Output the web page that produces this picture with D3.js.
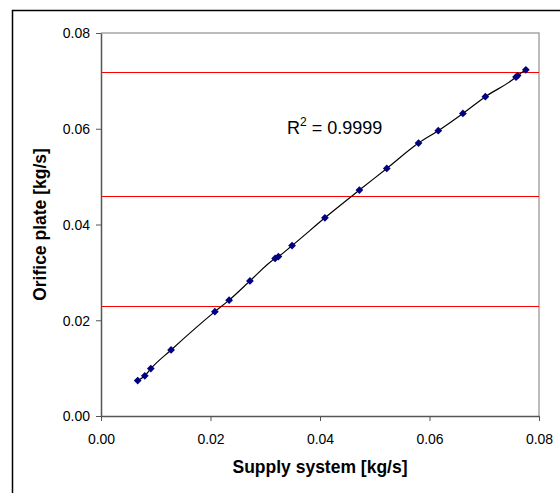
<!DOCTYPE html>
<html><head><meta charset="utf-8">
<script src="https://cdn.jsdelivr.net/npm/d3@7"></script>
<style>body{margin:0;background:#fff}svg{display:block}text{font-family:"Liberation Sans",Arial,sans-serif}</style>
</head><body>
<svg id="c" width="560" height="493"></svg>
<script>
const supply = [0.0067,0.0080,0.0091,0.0128,0.0208,0.0234,0.0272,0.0318,0.0324,0.0349,0.0409,0.0472,0.0522,0.0580,0.0616,0.0661,0.0702,0.0758,0.0761,0.0776];
const orifice = [0.0074,0.0084,0.0099,0.0138,0.0218,0.0242,0.0282,0.0329,0.0333,0.0356,0.0414,0.0472,0.0517,0.0570,0.0596,0.0632,0.0667,0.0708,0.0711,0.0723];
const refLines = [0.0719,0.0460,0.0230];
const xTicks = [0,0.02,0.04,0.06,0.08];
const yTicks = [0,0.02,0.04,0.06,0.08];
const xTitle = "Supply system [kg/s]";
const yTitle = "Orifice plate [kg/s]";

const svg = d3.select("#c");
const L=101, R=539, T=33, B=416;
const x = d3.scaleLinear().domain([0,0.08]).range([L,R]);
const y = d3.scaleLinear().domain([0,0.08]).range([B,T]);

// outer chart border
svg.append("rect").attr("x",12.5).attr("y",10.5).attr("width",600).attr("height",600)
  .attr("fill","none").attr("stroke","#000").attr("stroke-width",1.5);

// plot frame top/right
svg.append("path").attr("d",`M${L},${T}H${R}V${B}`).attr("fill","none").attr("stroke","#a6a6a6").attr("stroke-width",1.5);

// reference lines
svg.selectAll(".ref").data(refLines).enter().append("line")
  .attr("x1",L).attr("x2",R).attr("y1",d=>Math.round(y(d))+0.5).attr("y2",d=>Math.round(y(d))+0.5)
  .attr("stroke","#ff0000").attr("stroke-width",1);

// axes
const fmt = d3.format(".2f");
const gx = svg.append("g").attr("transform",`translate(0,${B})`)
  .call(d3.axisBottom(x).tickValues(xTicks).tickFormat(fmt).tickSize(5).tickSizeOuter(0));
const gy = svg.append("g").attr("transform",`translate(${L},0)`)
  .call(d3.axisLeft(y).tickValues(yTicks).tickFormat(fmt).tickSize(5).tickSizeOuter(0));
[gx,gy].forEach(g=>{
  g.select(".domain").attr("stroke","#555").attr("stroke-width",1.5);
  g.selectAll(".tick line").attr("stroke","#555");
  g.selectAll("text").attr("font-size",14).attr("fill","#000").attr("font-family","Liberation Sans, Arial, sans-serif");
});
gx.selectAll("text").attr("dy","0").attr("y",28);
gy.selectAll("text").attr("x",-11).attr("dy","0.35em");

// trend line
const pts = supply.map((s,i)=>[s,orifice[i]]);
svg.append("path").datum(pts)
  .attr("d",d3.line().x(d=>x(d[0])).y(d=>y(d[1])).curve(d3.curveMonotoneX))
  .attr("fill","none").attr("stroke","#000").attr("stroke-width",1.2);

// markers
svg.selectAll(".pt").data(pts).enter().append("path")
  .attr("d",d3.symbol(d3.symbolSquare,30)())
  .attr("transform",d=>`translate(${x(d[0])},${y(d[1])}) rotate(45)`)
  .attr("fill","#000080");

// R^2 label
const r = svg.append("text").attr("x",287).attr("y",134).attr("font-size",18).attr("fill","#000");
r.append("tspan").text("R");
r.append("tspan").text("2").attr("font-size",12).attr("dy",-8);
r.append("tspan").text(" = 0.9999").attr("dy",8);

// axis titles
svg.append("text").attr("x",(L+R)/2).attr("y",473).attr("text-anchor","middle")
  .attr("font-size",17.5).attr("font-weight","bold").text(xTitle);
svg.append("text").attr("transform",`translate(46,${(T+B)/2}) rotate(-90)`).attr("text-anchor","middle")
  .attr("font-size",17.5).attr("font-weight","bold").text(yTitle);
</script>
</body></html>
